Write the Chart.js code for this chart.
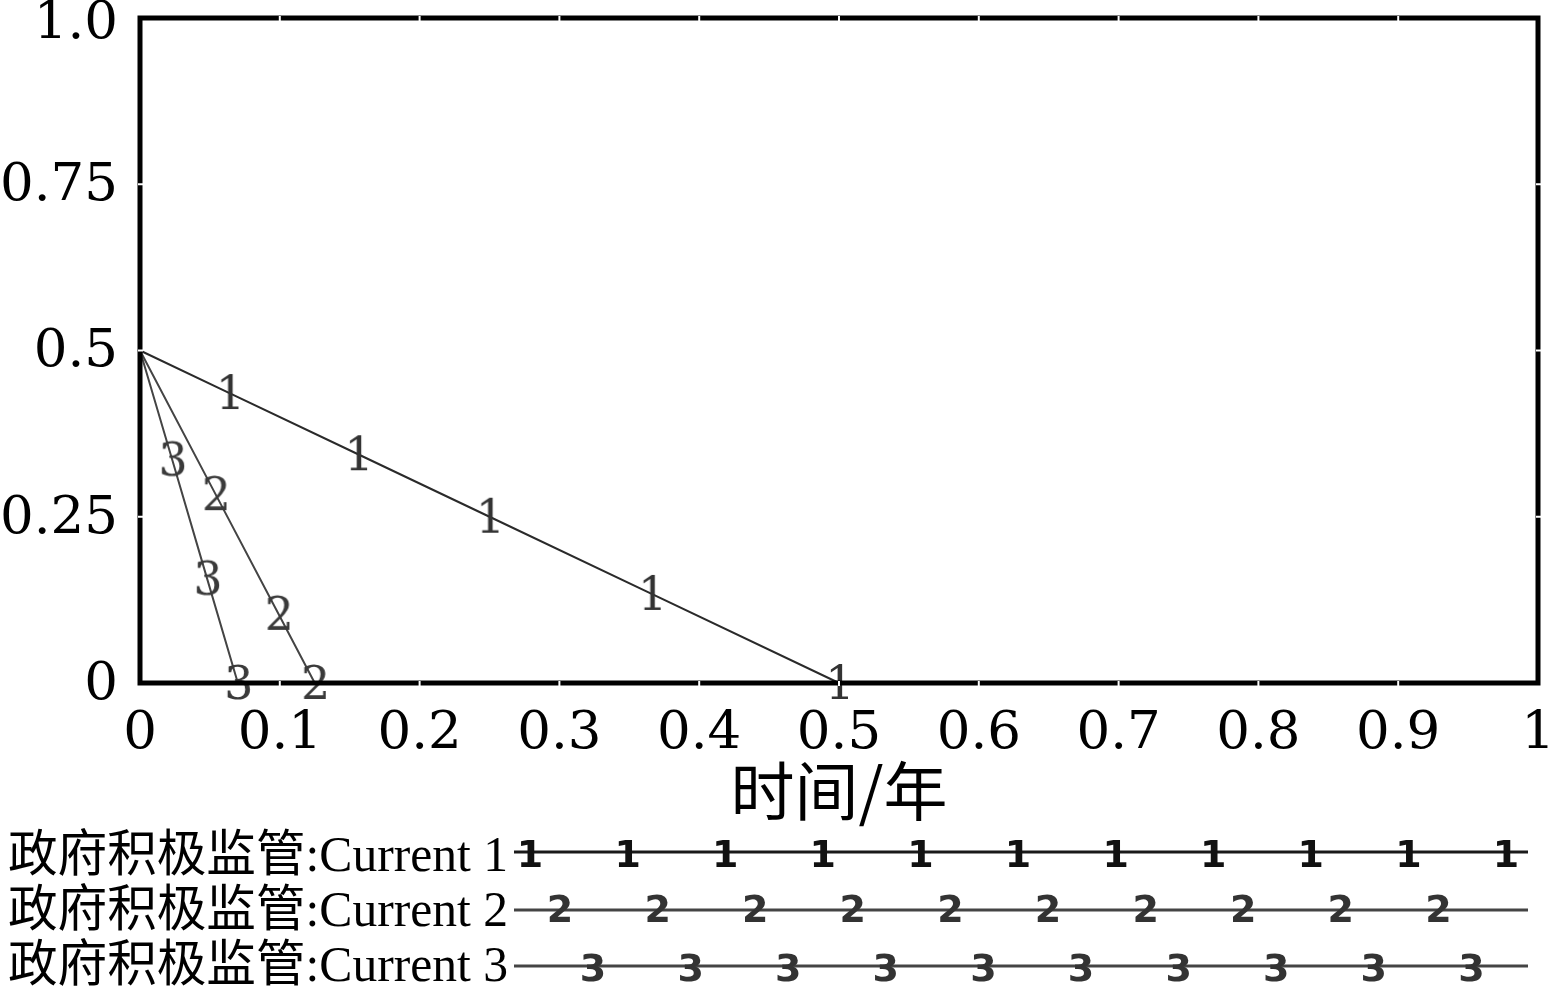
<!DOCTYPE html>
<html>
<head>
<meta charset="UTF-8">
<title>政府积极监管</title>
<script src="https://cdn.jsdelivr.net/npm/chart.js@4.4.0/dist/chart.umd.min.js"></script>
<style>
	body { margin:0; background:#fff; }
	#wrap { width:1551px; height:991px; }
</style>
<script>
	// data
	let seriesNames = ['政府积极监管:Current 1', '政府积极监管:Current 2', '政府积极监管:Current 3'];
	let x1 = [0, 0.064, 0.156, 0.25, 0.366, 0.5];
	let y1 = [0.5, 0.436, 0.344, 0.25, 0.134, 0];
	let x2 = [0, 0.054, 0.099, 0.125];
	let y2 = [0.5, 0.284, 0.104, 0];
	let x3 = [0, 0.023, 0.048, 0.07];
	let y3 = [0.5, 0.336, 0.157, 0];
	let xTicks = [0, 0.1, 0.2, 0.3, 0.4, 0.5, 0.6, 0.7, 0.8, 0.9, 1];
	let yTicks = [0, 0.25, 0.5, 0.75, 1];

	function pts(xs, ys){
		let out = [];
		for(let i = 0; i < xs.length; i++){
			out.push({x: xs[i], y: ys[i]});
		}
		return out;
	}

	function digit(txt, color){
		let c = document.createElement('canvas');
		c.width = 34; c.height = 50;
		let g = c.getContext('2d');
		g.fillStyle = color;
		g.font = '46px "DejaVu Serif"';
		g.textAlign = 'center';
		g.textBaseline = 'middle';
		g.fillText(txt, 18, 29);
		return c;
	}

	// frame, white tick notches and the legend rows
	let framePlugin = {
		id: 'frame',
		beforeDraw(chart){
			// nudge y labels a little down, the top one more so it is not cut off
			let items = chart.scales.y.getLabelItems();
			items.forEach(function(it){
				it.options.translation[1] += (it.label === '1.0') ? 6 : 2;
			});
		},
		afterDraw(chart){
			let ctx = chart.ctx;
			let a = chart.chartArea;
			ctx.save();
			ctx.strokeStyle = '#000';
			ctx.lineWidth = 5;
			ctx.strokeRect(a.left, a.top, a.right - a.left, a.bottom - a.top);
			ctx.strokeStyle = '#fff';
			ctx.lineWidth = 2;
			let xs = chart.scales.x, ys = chart.scales.y;
			xTicks.forEach(function(v){
				let px = xs.getPixelForValue(v);
				if(v > 0 && v < 1){
					ctx.beginPath(); ctx.moveTo(px, a.bottom - 2); ctx.lineTo(px, a.bottom + 3); ctx.stroke();
					ctx.beginPath(); ctx.moveTo(px, a.top - 2); ctx.lineTo(px, a.top + 3); ctx.stroke();
				}
			});
			yTicks.forEach(function(v){
				let py = ys.getPixelForValue(v);
				if(v > 0 && v < 1){
					ctx.beginPath(); ctx.moveTo(a.left - 2, py); ctx.lineTo(a.left + 3, py); ctx.stroke();
					ctx.beginPath(); ctx.moveTo(a.right - 2, py); ctx.lineTo(a.right + 3, py); ctx.stroke();
				}
			});

			// legend
			let rowY = [858, 913, 968];
			let lineY = [852, 910, 966];
			let digY = [857, 912, 971];
			let firstMark = [530, 560, 593];
			let counts = [11, 10, 10];
			let gap = 97.6;
			chart.data.datasets.forEach(function(ds, i){
				ctx.fillStyle = '#000';
				ctx.font = '50px "Liberation Serif", "Noto Sans CJK SC"';
				ctx.textAlign = 'left';
				ctx.textBaseline = 'middle';
				ctx.fillText(ds.label, 8, rowY[i], 500);
				ctx.strokeStyle = i == 0 ? '#1a1a1a' : '#444';
				ctx.lineWidth = 3;
				ctx.beginPath();
				ctx.moveTo(514, lineY[i]);
				ctx.lineTo(1528, lineY[i]);
				ctx.stroke();
				ctx.fillStyle = i == 0 ? '#111' : '#333';
				ctx.font = 'bold 38px "DejaVu Sans"';
				ctx.textAlign = 'center';
				for(let k = 0; k < counts[i]; k++){
					ctx.fillText(String(i + 1), firstMark[i] + k * gap, digY[i]);
				}
			});
			ctx.restore();
		}
	};

	window.onload = function(){
		Chart.defaults.font.family = '"DejaVu Serif"';
		Chart.defaults.color = '#000';
		new Chart('myChart', {
			type: 'line',
			data: {
				datasets: [
					{label: seriesNames[0], data: pts(x1, y1), borderColor: '#2a2a2a', borderWidth: 2,
					 pointStyle: digit('1', '#333'), pointRadius: [0, 5, 5, 5, 5, 5], clip: false},
					{label: seriesNames[1], data: pts(x2, y2), borderColor: '#444', borderWidth: 2,
					 pointStyle: digit('2', '#3a3a3a'), pointRadius: [0, 5, 5, 5], clip: false},
					{label: seriesNames[2], data: pts(x3, y3), borderColor: '#444', borderWidth: 2,
					 pointStyle: digit('3', '#3a3a3a'), pointRadius: [0, 5, 5, 5], clip: false}
				]
			},
			options: {
				responsive: false,
				animation: false,
				layout: {padding: {left: 0, right: 13, top: 18, bottom: 158}},
				plugins: {legend: {display: false}, tooltip: {enabled: false}},
				scales: {
					x: {
						type: 'linear', min: 0, max: 1,
						grid: {display: false, drawTicks: false},
						border: {display: false},
						afterBuildTicks: function(s){ s.ticks = xTicks.map(v => ({value: v})); },
						afterFit: function(s){ s.height = 150; s.paddingLeft = 0; s.paddingRight = 0; },
						ticks: {
							font: {size: 53}, padding: 19, maxRotation: 0, autoSkip: false,
							callback: function(v){ return (v === 0 || v === 1) ? String(v) : v.toFixed(1); }
						},
						title: {display: true, text: '时间/年', font: {family: '"Noto Sans CJK SC"', size: 64}, padding: {top: 0, bottom: 4}}
					},
					y: {
						type: 'linear', min: 0, max: 1,
						grid: {display: false, drawTicks: false},
						border: {display: false},
						afterBuildTicks: function(s){ s.ticks = yTicks.map(v => ({value: v})); },
						afterFit: function(s){ s.width = 140; s.paddingTop = 0; s.paddingBottom = 0; },
						ticks: {
							font: {size: 53}, padding: 22,
							callback: function(v){ return v === 1 ? '1.0' : String(v); }
						}
					}
				}
			},
			plugins: [framePlugin]
		});
	};
</script>
</head>
<body>
	<div id="wrap">
		<canvas id="myChart" width="1551" height="991"></canvas>
	</div>
</body>
</html>
